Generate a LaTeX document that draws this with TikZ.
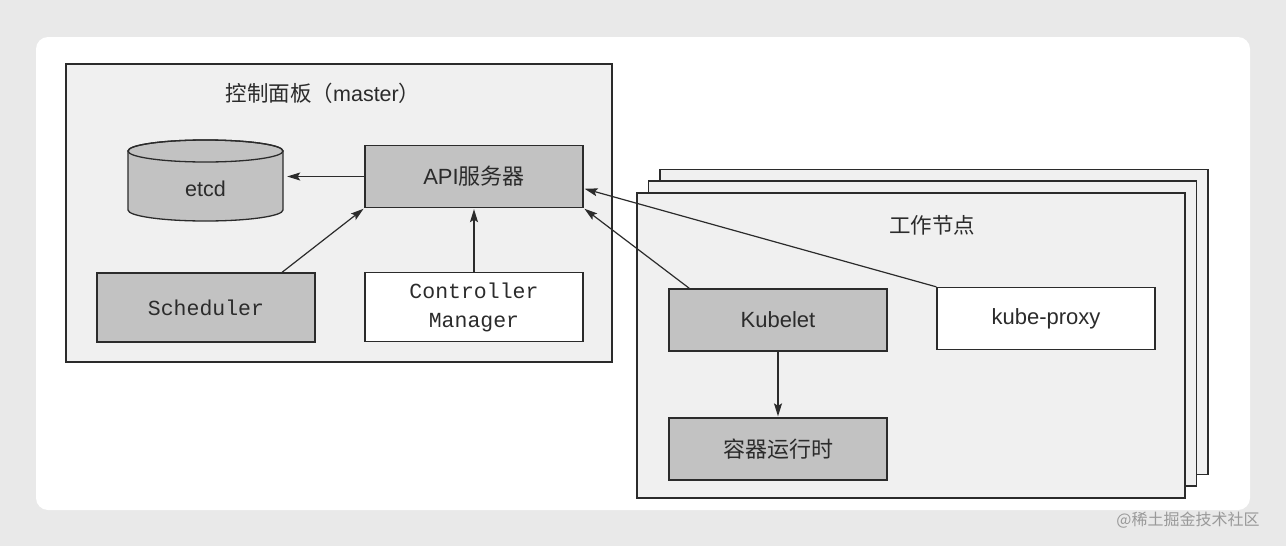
\documentclass[tikz,border=0pt]{standalone}
\usepackage{fontspec}
\setmainfont{Liberation Sans}
\setmonofont{Liberation Mono}
\newfontfamily\cjk{Noto Sans CJK SC}
\usetikzlibrary{arrows.meta,calc}
\definecolor{pagebg}{HTML}{E9E9E9}
\definecolor{panelgray}{HTML}{F0F0F0}
\definecolor{boxgray}{HTML}{C2C2C2}
\definecolor{inkgray}{HTML}{2B2B2B}

\begin{document}
\begin{tikzpicture}[x=1pt, y=-1pt,
		line/.style={draw=inkgray, line width=1.3pt},
		panel/.style={line, fill=panelgray, inner sep=0pt},
		box/.style={line, fill=boxgray, minimum width=218pt, minimum height=62pt, inner sep=0pt,
				font=\fontsize{22}{26}\selectfont, text=inkgray},
		plain/.style={box, fill=white},
		code/.style={font=\fontsize{21.5}{29}\selectfont\ttfamily, align=center},
		label/.style={font=\fontsize{21.5}{26}\selectfont, text=inkgray},
		link/.style={every edge/.append style={-{Stealth[length=13pt,width=8pt,inset=2.5pt]},
				draw=inkgray, line width=1.2pt, shorten >=1pt}}]
	\useasboundingbox (0,0) rectangle (1286,546);
	\fill[pagebg] (0,0) rectangle (1286,546);
	\fill[white, rounded corners=12pt] (36,37) rectangle (1250,510);

	% control plane
	\node[panel, minimum width=546pt, minimum height=298pt] (master) at (339,213) {};
	\node[label] (mastertitle) at (323,93) {{\cjk 控制面板（}master{\cjk ）}};
	\path[line, fill=boxgray] (128,151) -- (128,210)
		arc[start angle=180, end angle=0, x radius=77.5, y radius=11] -- (283,151)
		arc[start angle=0, end angle=-180, x radius=77.5, y radius=11] -- cycle;
	\draw[line] (205.5,151) ellipse [x radius=77.5, y radius=11];
	\node[label, minimum width=155pt, minimum height=44pt, inner sep=0pt] (etcd) at (205.5,189) {etcd};
	\node[box] (api) at (474,176.5) {API{\cjk 服务器}};
	\node[box, code, minimum height=69pt] (sched) at (206,307.5) {Scheduler};
	\node[plain, code, minimum height=69pt] (ctrl) at (474,307) {Controller\\Manager};

	% worker nodes
	\node[panel, minimum width=548pt, minimum height=305pt] (backnode) at (934,322) {};
	\node[panel, minimum width=548pt, minimum height=305pt] (midnode) at (922.5,333.5) {};
	\node[panel, minimum width=548pt, minimum height=305pt] (worker) at (911,345.5) {};
	\node[label] (workertitle) at (932,225) {{\cjk 工作节点}};
	\node[box] (kubelet) at (778,320) {Kubelet};
	\node[plain] (proxy) at (1046,318.5) {kube-proxy};
	\node[box] (runtime) at (778,449) {{\cjk 容器运行时}};

	\node[font=\cjk\fontsize{16}{18}\selectfont, text=black!40] (mark) at (1188,520) {@稀土掘金技术社区};

	\path[link]
	(api.west) edge ($(api.west -| etcd.east)+(3,0)$)
	($(sched.north)+(76,0)$) edge (api.south west)
	(ctrl.north) edge (api.south)
	($(kubelet.north west)+(21,0)$) edge (api.south east)
	(proxy.north west) edge ($(api.east)+(0,12)$)
	(kubelet.south) edge (runtime.north);
\end{tikzpicture}
\end{document}
